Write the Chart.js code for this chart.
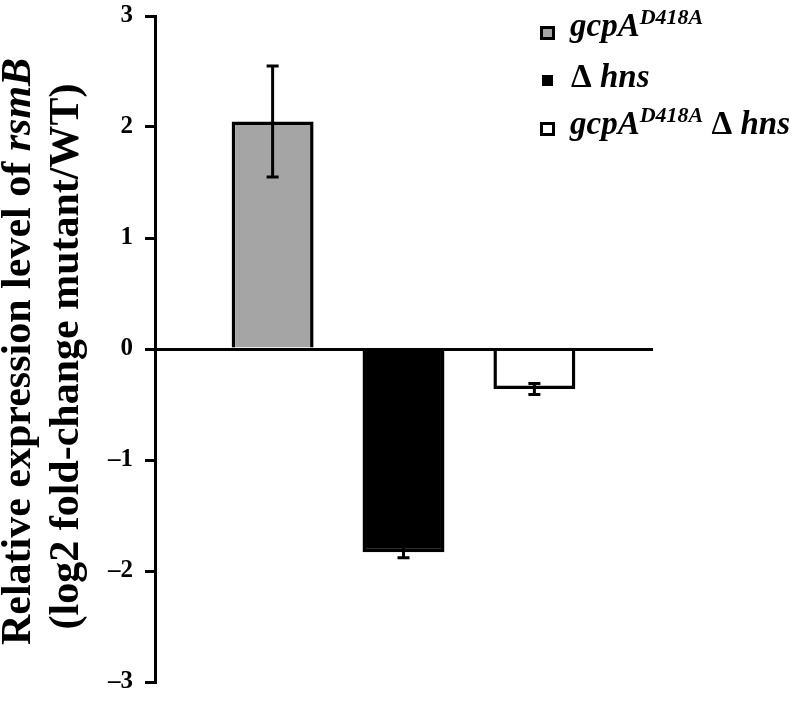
<!DOCTYPE html>
<html>
<head>
<meta charset="utf-8">
<script src="https://cdn.jsdelivr.net/npm/chart.js@4.4.1/dist/chart.umd.min.js"></script>
<style>
  body { margin: 0; background: #fff; }
  #wrap { position: relative; width: 800px; height: 702px; font-family: 'Liberation Serif', 'Times New Roman', serif; }
  .ytitle { position: absolute; width: 760px; height: 47px; line-height: 47px; text-align: center;
            font-size: 42px; font-weight: bold; white-space: nowrap; transform: rotate(-90deg); color: #000; }
  .leg { position: absolute; font-size: 33px; line-height: 33px; font-weight: bold; font-style: italic; white-space: nowrap; color: #000; }
  .leg sup { font-size: 22px; position: relative; top: -12px; vertical-align: baseline; }
  .leg .up { font-style: normal; }
  .box { position: absolute; box-sizing: border-box; border: 3px solid #000; }
</style>
</head>
<body>
<div id="wrap">
  <canvas id="chart" width="800" height="702"></canvas>

  <div class="ytitle" style="left:-364px; top:328px;">Relative expression level of <i>rsmB</i></div>
  <div class="ytitle" style="left:-316px; top:333px;">(log2 fold-change mutant/WT)</div>

  <div class="box" style="left:540px; top:26px; width:15px; height:14px; background:#a5a5a5;"></div>
  <div class="leg" style="left:570px; top:9px;">gcpA<sup>D418A</sup></div>

  <div class="box" style="left:542px; top:75px; width:11px; height:11px; background:#000;"></div>
  <div class="leg" style="left:571px; top:60px;"><span class="up">Δ</span> hns</div>

  <div class="box" style="left:540px; top:122px; width:15px; height:14px; background:#fff;"></div>
  <div class="leg" style="left:570px; top:107px;">gcpA<sup>D418A</sup> <span class="up">Δ</span> hns</div>
</div>

<script>
// values
const strains = ['gcpA D418A', 'Δ hns', 'gcpA D418A Δ hns']
const foldChange = [2.05, -1.83, -0.36]
const errors = [0.5, 0.05, 0.05]
const fills = ['#a5a5a5', '#000000', '#ffffff']
const yTicks = [-3, -2, -1, 0, 1, 2, 3]

// draw the error bars with caps on top of each bar
const errorBars = {
    id: 'errorBars',
    afterDatasetsDraw(chart) {
        const ctx = chart.ctx
        const y = chart.scales.y
        ctx.save()
        ctx.strokeStyle = '#000'
        ctx.lineWidth = 3
        chart.data.datasets.forEach((ds, i) => {
            const bar = chart.getDatasetMeta(i).data[0]
            const v = ds.data[0]
            const hi = y.getPixelForValue(v + errors[i])
            const lo = y.getPixelForValue(v - errors[i])
            ctx.beginPath()
            ctx.moveTo(bar.x, hi)
            ctx.lineTo(bar.x, lo)
            ctx.moveTo(bar.x - 6, hi)
            ctx.lineTo(bar.x + 6, hi)
            ctx.moveTo(bar.x - 6, lo)
            ctx.lineTo(bar.x + 6, lo)
            ctx.stroke()
        })
        ctx.restore()
    }
}

const datasets = strains.map((s, i) => ({
    label: s,
    data: [foldChange[i]],
    backgroundColor: fills[i],
    borderColor: '#000',
    borderWidth: 3.5,
    barPercentage: 0.626,
    categoryPercentage: 0.79
}))

new Chart('chart', {
    type: 'bar',
    data: { labels: [''], datasets },
    options: {
        responsive: false,
        animation: false,
        layout: { padding: { left: 0, right: 148, top: 16, bottom: 20 } },
        plugins: { legend: { display: false }, tooltip: { enabled: false } },
        scales: {
            x: {
                position: { y: 0 },
                grid: { display: false },
                ticks: { display: false },
                border: { display: true, color: '#000', width: 3, z: 1 }
            },
            y: {
                min: -3,
                max: 3,
                afterFit: scale => { scale.width = 155 },
                afterBuildTicks: scale => { scale.ticks = yTicks.map(v => ({ value: v })) },
                grid: { drawOnChartArea: false, drawTicks: true, tickLength: 10, color: '#000', lineWidth: 3 },
                border: { display: true, color: '#000', width: 3 },
                ticks: {
                    padding: 12,
                    color: '#000',
                    callback: v => (v < 0 ? '–' + Math.abs(v) : String(v)),
                    font: { family: "Liberation Serif", size: 25, weight: 'bold', lineHeight: 0.3 }
                }
            }
        }
    },
    plugins: [errorBars]
})
</script>
</body>
</html>
